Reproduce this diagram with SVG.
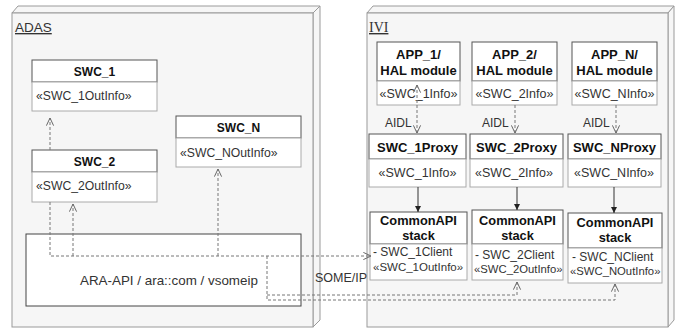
<svg xmlns="http://www.w3.org/2000/svg" width="678" height="329" viewBox="0 0 678 329">
<style>
.pkg{fill:#f6f6f6;stroke:#9a9a9a;stroke-width:1}
.hd{fill:#fff;stroke:#555;stroke-width:1}
.bd{fill:#fff;stroke:#aaa;stroke-width:1}
.t{font-family:"Liberation Sans",Arial,sans-serif;fill:#333}
.b{font-family:"Liberation Sans",Arial,sans-serif;font-weight:bold;fill:#111}
.dash{fill:none;stroke:#777;stroke-width:1;stroke-dasharray:3,2}
.solid{fill:none;stroke:#333;stroke-width:1}
</style>
<defs>
<marker id="open" viewBox="0 0 10 10" refX="9.5" refY="5" markerWidth="9" markerHeight="9" markerUnits="userSpaceOnUse" orient="auto-start-reverse">
<path d="M1,1 L9.5,5 L1,9" fill="none" stroke="#666" stroke-width="1.1"/>
</marker>
<marker id="fill" viewBox="0 0 10 10" refX="10" refY="5" markerWidth="6" markerHeight="6" markerUnits="userSpaceOnUse" orient="auto">
<path d="M0,0 L10,5 L0,10 z" fill="#222"/>
</marker>
</defs>
<rect width="678" height="329" fill="#fff"/>

<g id="ADAS">
<polygon class="pkg" points="12,13 18,6 320,6 313,13"/>
<polygon class="pkg" points="313,13 320,6 320,320 313,327"/>
<rect class="pkg" x="12" y="13" width="301" height="314"/>
<text class="t" x="15" y="32" font-size="13.5" text-decoration="underline">ADAS</text>
</g>

<g id="IVI">
<polygon class="pkg" points="367,13 373,6 674,6 668,13"/>
<polygon class="pkg" points="668,13 674,6 674,320 668,327"/>
<rect class="pkg" x="367" y="13" width="301" height="314"/>
<text x="369" y="32" font-size="14" font-family="'Liberation Serif','Times New Roman',serif" fill="#333" text-decoration="underline">IVI</text>
</g>

<g id="SWC_1">
<rect class="hd" x="32" y="60" width="125" height="22"/>
<rect class="bd" x="32" y="82" width="125" height="29"/>
<text class="b" x="94.5" y="76" font-size="12" text-anchor="middle">SWC_1</text>
<text class="t" x="36" y="100" font-size="12.2">«SWC_1OutInfo»</text>
</g>

<g id="SWC_2">
<rect class="hd" x="32" y="150" width="125" height="22"/>
<rect class="bd" x="32" y="172" width="125" height="30"/>
<text class="b" x="94.5" y="166" font-size="12" text-anchor="middle">SWC_2</text>
<text class="t" x="36" y="190" font-size="12.2">«SWC_2OutInfo»</text>
</g>

<g id="SWC_N">
<rect class="hd" x="176" y="116" width="125" height="22"/>
<rect class="bd" x="176" y="138" width="125" height="29"/>
<text class="b" x="238.5" y="132" font-size="12" text-anchor="middle">SWC_N</text>
<text class="t" x="180" y="157" font-size="12.2">«SWC_NOutInfo»</text>
</g>

<g id="ARA">
<rect x="26" y="234" width="275" height="72" fill="#fff" stroke="#444"/>
<text class="t" x="80" y="285" font-size="13.4">ARA-API / ara::com / vsomeip</text>
</g>

<g id="APP_1">
<rect class="hd" x="377" y="42" width="83" height="39"/>
<rect class="bd" x="377" y="81" width="83" height="24"/>
<text class="b" x="418.5" y="59" font-size="13" text-anchor="middle">APP_1/</text>
<text class="b" x="418.5" y="75" font-size="13" text-anchor="middle">HAL module</text>
<text class="t" x="418.5" y="98" font-size="12.5" text-anchor="middle">«SWC_1Info»</text>
</g>
<g id="APP_2">
<rect class="hd" x="472" y="42" width="85" height="39"/>
<rect class="bd" x="472" y="81" width="85" height="24"/>
<text class="b" x="514.5" y="59" font-size="13" text-anchor="middle">APP_2/</text>
<text class="b" x="514.5" y="75" font-size="13" text-anchor="middle">HAL module</text>
<text class="t" x="514.5" y="98" font-size="12.5" text-anchor="middle">«SWC_2Info»</text>
</g>
<g id="APP_N">
<rect class="hd" x="572" y="42" width="85" height="39"/>
<rect class="bd" x="572" y="81" width="85" height="24"/>
<text class="b" x="614.5" y="59" font-size="13" text-anchor="middle">APP_N/</text>
<text class="b" x="614.5" y="75" font-size="13" text-anchor="middle">HAL module</text>
<text class="t" x="614.5" y="98" font-size="12.5" text-anchor="middle">«SWC_NInfo»</text>
</g>

<g id="SWC_1Proxy">
<rect class="hd" x="369" y="134" width="97" height="25"/>
<rect class="bd" x="369" y="159" width="97" height="28"/>
<text class="b" x="417.5" y="152" font-size="13" text-anchor="middle">SWC_1Proxy</text>
<text class="t" x="417.5" y="177" font-size="12.5" text-anchor="middle">«SWC_1Info»</text>
</g>
<g id="SWC_2Proxy">
<rect class="hd" x="470" y="134" width="93" height="25"/>
<rect class="bd" x="470" y="159" width="93" height="28"/>
<text class="b" x="516.5" y="152" font-size="13" text-anchor="middle">SWC_2Proxy</text>
<text class="t" x="514" y="177" font-size="12.5" text-anchor="middle">«SWC_2Info»</text>
</g>
<g id="SWC_NProxy">
<rect class="hd" x="568" y="134" width="93" height="25"/>
<rect class="bd" x="568" y="159" width="93" height="28"/>
<text class="b" x="614.5" y="152" font-size="13" text-anchor="middle">SWC_NProxy</text>
<text class="t" x="614" y="177" font-size="12.5" text-anchor="middle">«SWC_NInfo»</text>
</g>

<g id="CommonAPI_1">
<rect class="hd" x="370" y="212" width="97" height="32"/>
<rect class="bd" x="370" y="244" width="97" height="36"/>
<text class="b" x="418.5" y="225" font-size="12.8" text-anchor="middle">CommonAPI</text>
<text class="b" x="418.5" y="240" font-size="12.8" text-anchor="middle">stack</text>
<text class="t" x="373" y="256" font-size="12">- SWC_1Client</text>
<text class="t" x="373" y="271" font-size="11.5">«SWC_1OutInfo»</text>
</g>
<g id="CommonAPI_2">
<rect class="hd" x="472" y="210" width="91" height="34"/>
<rect class="bd" x="472" y="244" width="91" height="36"/>
<text class="b" x="517.5" y="225" font-size="12.8" text-anchor="middle">CommonAPI</text>
<text class="b" x="517.5" y="240" font-size="12.8" text-anchor="middle">stack</text>
<text class="t" x="475" y="259" font-size="12">- SWC_2Client</text>
<text class="t" x="474" y="273" font-size="11.3">«SWC_2OutInfo»</text>
</g>
<g id="CommonAPI_N">
<rect class="hd" x="568" y="213" width="94" height="35"/>
<rect class="bd" x="568" y="248" width="94" height="35"/>
<text class="b" x="615" y="227" font-size="12.8" text-anchor="middle">CommonAPI</text>
<text class="b" x="615" y="242" font-size="12.8" text-anchor="middle">stack</text>
<text class="t" x="572" y="261" font-size="12">- SWC_NClient</text>
<text class="t" x="570" y="275" font-size="11.3">«SWC_NOutInfo»</text>
</g>

<g id="connectors">
<path class="dash" d="M50,150 V118" marker-end="url(#open)"/>
<path class="dash" d="M50,202 V256 H371" marker-end="url(#open)"/>
<path class="dash" d="M73,256 V204" marker-end="url(#open)"/>
<path class="dash" d="M218,256 V169" marker-end="url(#open)"/>
<path class="dash" d="M267,256 V300 H615 V284" marker-end="url(#open)"/>
<path class="dash" d="M267,295 H517 V282" marker-end="url(#open)"/>
<path class="dash" d="M417,85 V133" marker-start="url(#open)" marker-end="url(#open)"/>
<path class="dash" d="M515,105 V133" marker-end="url(#open)"/>
<path class="dash" d="M616,105 V133" marker-end="url(#open)"/>
<path class="solid" d="M418,187 V212" marker-end="url(#fill)"/>
<path class="solid" d="M517,187 V210" marker-end="url(#fill)"/>
<path class="solid" d="M614,187 V213" marker-end="url(#fill)"/>
<text class="t" x="385" y="127" font-size="12">AIDL</text>
<text class="t" x="482" y="127" font-size="12">AIDL</text>
<text class="t" x="583" y="127" font-size="12">AIDL</text>
<text class="t" x="315" y="282" font-size="12.5">SOME/IP</text>
</g>
</svg>
